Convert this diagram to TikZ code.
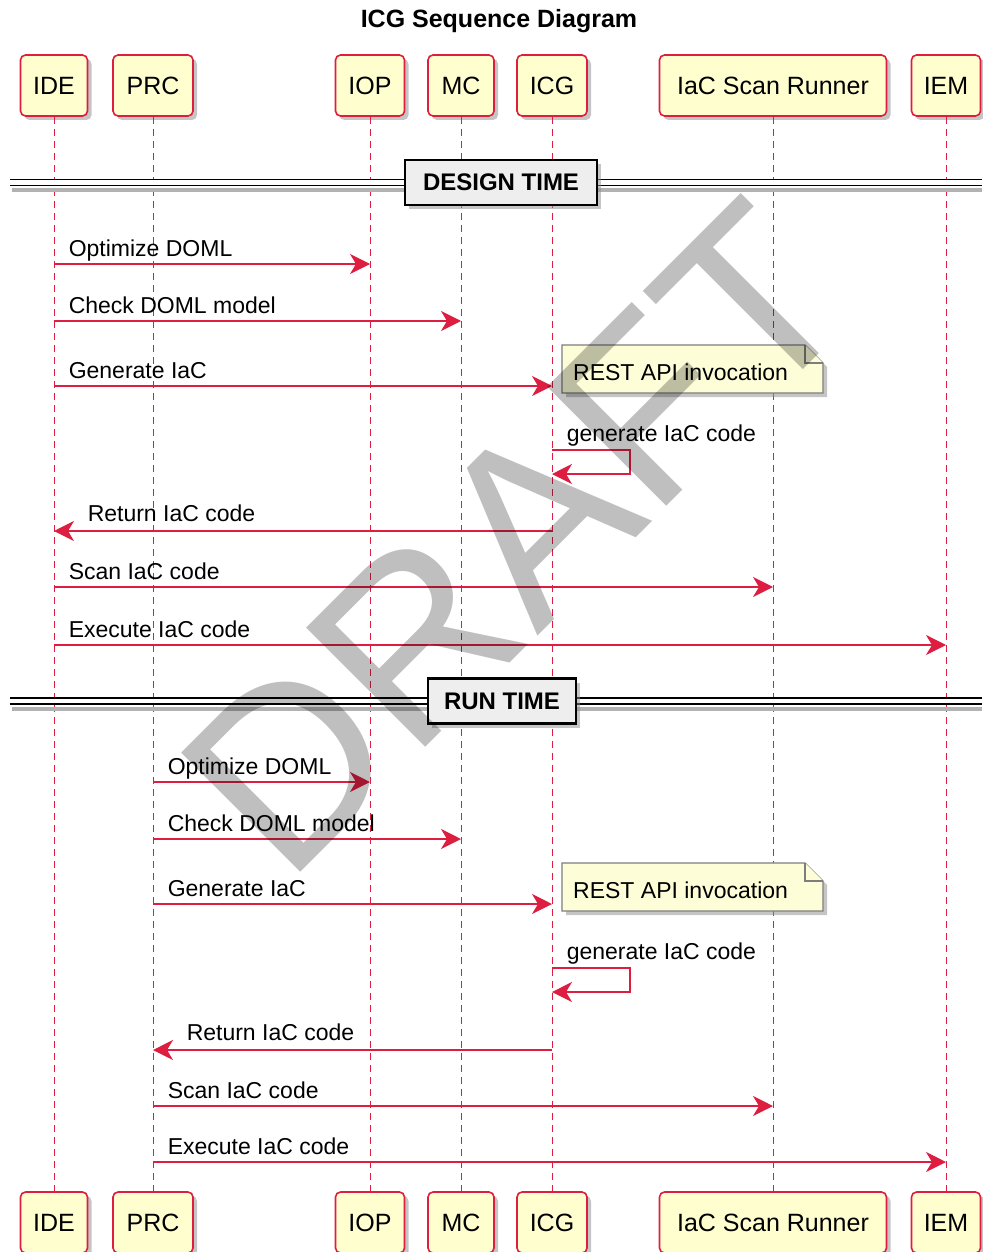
\documentclass[tikz,border=0pt]{standalone}
\usepackage{fontspec}
\setmainfont{Liberation Sans}
\usetikzlibrary{arrows.meta,positioning,calc,shadows}
\definecolor{crim}{RGB}{221,30,65}
\definecolor{partbg}{RGB}{254,254,206}
\definecolor{notebg}{RGB}{253,253,216}
\definecolor{notebd}{RGB}{125,125,125}
\definecolor{divbg}{RGB}{238,238,238}

\begin{document}
\begin{tikzpicture}[x=1pt, y=-1pt,
    part/.style={draw=crim, line width=1.6pt, fill=partbg, rounded corners=5pt,
                 minimum width=#1, minimum height=61pt, inner sep=0pt,
                 font=\fontsize{25}{30}\selectfont,
                 drop shadow={shadow xshift=4pt, shadow yshift=-4pt, fill=black!45, opacity=.5}},
    lline/.style={draw=crim, line width=1pt, dash pattern=on 7pt off 5pt},
    msg/.style={draw=crim, line width=1.5pt, -{Stealth[length=20pt, width=20pt, inset=6pt]}},
    lbl/.style={anchor=base west, inner sep=0pt, xshift=14pt, yshift=8pt,
                font=\fontsize{23}{28}\selectfont},
    rlbl/.style={anchor=base west, inner sep=0pt, xshift=33pt, yshift=10pt,
                 font=\fontsize{23}{28}\selectfont},
    divbox/.style={draw=black, line width=2.5pt, fill=divbg, minimum height=45pt,
                   inner sep=0pt, font=\bfseries\fontsize{24}{28}\selectfont,
                   drop shadow={shadow xshift=4pt, shadow yshift=-4pt, fill=black!45, opacity=.5}},
    divline/.style={double, double distance=4.2pt, line width=1.8pt},
    notebox/.style={draw=notebd, line width=1.2pt, fill=notebg},
    wmark/.style={rotate=45, inner sep=0pt, font=\fontsize{245}{245}\selectfont,
                  text=black, opacity=.25}
]
\useasboundingbox (0,0) rectangle (982,1252);

\node[font=\bfseries\fontsize{25}{30}\selectfont] (title) at (499,21) {ICG Sequence Diagram};

% participants, top and bottom
\node[part=67pt]  (ide)  at (54,85.5)  {IDE};
\node[part=80pt]  (prc)  at (153,85.5) {PRC};
\node[part=69pt]  (iop)  at (370,85.5) {IOP};
\node[part=66pt]  (mc)   at (461,85.5) {MC};
\node[part=70pt]  (icg)  at (552,85.5) {ICG};
\node[part=227pt] (scan) at (773,85.5) {IaC Scan Runner};
\node[part=69pt]  (iem)  at (946,85.5) {IEM};

\node[part=67pt]  (ide2)  at (54,1222.5)  {IDE};
\node[part=80pt]  (prc2)  at (153,1222.5) {PRC};
\node[part=69pt]  (iop2)  at (370,1222.5) {IOP};
\node[part=66pt]  (mc2)   at (461,1222.5) {MC};
\node[part=70pt]  (icg2)  at (552,1222.5) {ICG};
\node[part=227pt] (scan2) at (773,1222.5) {IaC Scan Runner};
\node[part=69pt]  (iem2)  at (946,1222.5) {IEM};

% lifelines
\draw[lline] (ide) -- (ide2);
\draw[lline] (prc) -- (prc2);
\draw[lline] (iop) -- (iop2);
\draw[lline] (mc) -- (mc2);
\draw[lline] (icg) -- (icg2);
\draw[lline] (scan) -- (scan2);
\draw[lline] (iem) -- (iem2);

% design time
\fill[black!30] (12,188.5) rectangle (982,192.5);
\draw[divline] (10,182.5) -- (982,182.5);
\node[divbox, minimum width=192pt] (design) at (501,182.5) {DESIGN TIME};

\draw[msg] (ide |- 0,264) node[lbl] {Optimize DOML} -- (iop |- 0,264);
\draw[msg] (ide |- 0,321) node[lbl] {Check DOML model} -- (mc |- 0,321);
\draw[msg] (ide |- 0,386) node[lbl] {Generate IaC} -- (icg |- 0,386);

\fill[black!45, opacity=.5] (566,349) -- (809,349) -- (827,367) -- (827,397) -- (566,397) -- cycle;
\filldraw[notebox] (562,345) -- (805,345) -- (823,363) -- (823,393) -- (562,393) -- cycle;
\draw[notebox] (805,345) -- (805,363) -- (823,363);
\node[anchor=base west, inner sep=0pt, font=\fontsize{23}{28}\selectfont] (note1) at (573,380) {REST API invocation};

\draw[msg] (icg |- 0,450) node[lbl, yshift=1pt] {generate IaC code} -- (630,450) -- (630,474) -- (icg |- 0,474);
\draw[msg] (icg |- 0,531) -- (ide |- 0,531) node[rlbl] {Return IaC code};
\draw[msg] (ide |- 0,587) node[lbl] {Scan IaC code} -- (scan |- 0,587);
\draw[msg] (ide |- 0,645) node[lbl] {Execute IaC code} -- (iem |- 0,645);

% run time
\fill[black!30] (12,707) rectangle (982,711);
\draw[divline] (10,701) -- (982,701);
\node[divbox, minimum width=148pt] (run) at (502,701) {RUN TIME};

\draw[msg] (prc |- 0,782) node[lbl] {Optimize DOML} -- (iop |- 0,782);
\draw[msg] (prc |- 0,839) node[lbl] {Check DOML model} -- (mc |- 0,839);
\draw[msg] (prc |- 0,904) node[lbl] {Generate IaC} -- (icg |- 0,904);

\fill[black!45, opacity=.5] (566,867) -- (809,867) -- (827,885) -- (827,915) -- (566,915) -- cycle;
\filldraw[notebox] (562,863) -- (805,863) -- (823,881) -- (823,911) -- (562,911) -- cycle;
\draw[notebox] (805,863) -- (805,881) -- (823,881);
\node[anchor=base west, inner sep=0pt, font=\fontsize{23}{28}\selectfont] (note2) at (573,898) {REST API invocation};

\draw[msg] (icg |- 0,968) node[lbl, yshift=1pt] {generate IaC code} -- (630,968) -- (630,992) -- (icg |- 0,992);
\draw[msg] (icg |- 0,1050) -- (prc |- 0,1050) node[rlbl] {Return IaC code};
\draw[msg] (prc |- 0,1106) node[lbl] {Scan IaC code} -- (scan |- 0,1106);
\draw[msg] (prc |- 0,1162) node[lbl] {Execute IaC code} -- (iem |- 0,1162);

% watermark
\node[wmark] (draft) at (516,538) {DRAFT};
\end{tikzpicture}
\end{document}
